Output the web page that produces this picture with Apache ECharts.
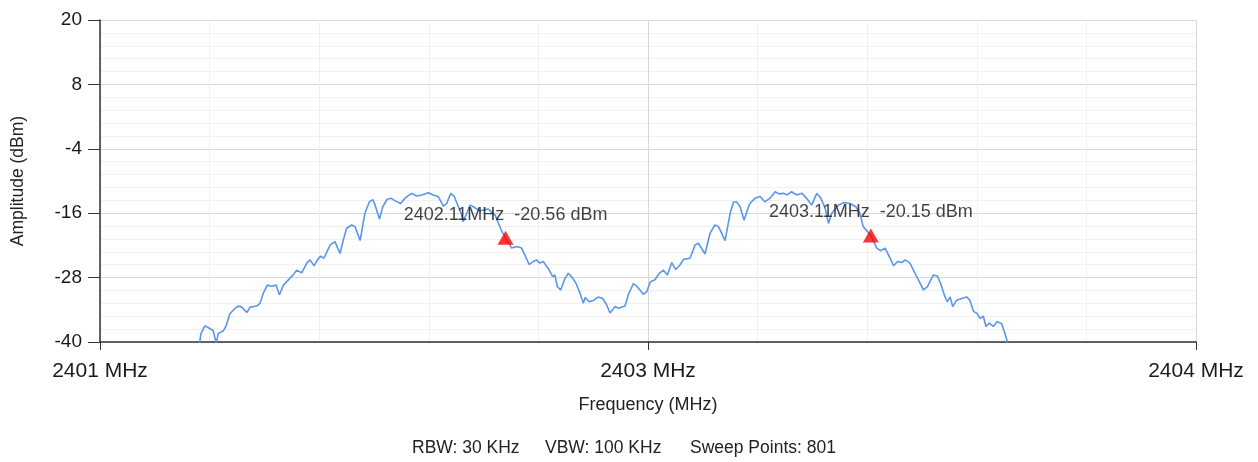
<!DOCTYPE html>
<html>
<head>
<meta charset="utf-8">
<script src="https://cdn.jsdelivr.net/npm/echarts@6/dist/echarts.min.js"></script>
<style>
html,body{margin:0;padding:0;background:#fff;}
#chart{width:1258px;height:462px;}
</style>
</head>
<body>
<div id="chart"></div>
<script>
// Frequency (MHz) of trace points
const freqs = [
2401.272,2401.276,2401.287,2401.296,2401.310,2401.318,2401.324,2401.338,2401.345,2401.356,
2401.370,2401.379,2401.388,2401.402,2401.411,2401.429,2401.438,2401.447,2401.458,2401.470,
2401.482,2401.491,2401.502,2401.520,2401.529,2401.538,2401.552,2401.566,2401.575,2401.586,
2401.595,2401.604,2401.613,2401.630,2401.643,2401.657,2401.666,2401.675,2401.689,2401.698,
2401.712,2401.725,2401.737,2401.747,2401.753,2401.765,2401.774,2401.786,2401.796,2401.808,
2401.823,2401.835,2401.853,2401.867,2401.881,2401.899,2401.912,2401.926,2401.940,2401.949,
2401.960,2401.969,2401.981,2401.990,2401.994,2402.004,2402.013,2402.022,2402.040,2402.062,
2402.081,2402.100,2402.110,2402.127,2402.141,2402.154,2402.163,2402.175,2402.186,2402.195,
2402.204,2402.213,2402.227,2402.239,2402.245,2402.252,2402.261,2402.273,2402.282,2402.294,
2402.303,2402.314,2402.323,2402.328,2402.339,2402.352,2402.364,2402.376,2402.387,2402.396,
2402.410,2402.419,2402.437,2402.446,2402.460,2402.469,2402.478,2402.487,2402.497,2402.506,
2402.519,2402.531,2402.542,2402.553,2402.565,2402.576,2402.588,2402.597,2402.615,2402.629,
2402.638,2402.656,2402.670,2402.683,2402.693,2402.711,2402.725,2402.734,2402.743,2402.752,
2402.763,2402.775,2402.779,2402.793,2402.807,2402.820,2402.834,2402.848,2402.859,2402.870,
2402.881,2402.893,2402.907,2402.921,2402.934,2402.948,2402.962,2402.973,2402.985,2402.994,
2403.003,2403.021,2403.037,2403.053,2403.069,2403.080,2403.089,2403.110,2403.126,2403.137,
2403.149,2403.163,2403.172,2403.183,2403.195,2403.204,2403.217,2403.231,2403.243,2403.254,
2403.265,2403.281,2403.292,2403.301,2403.313,2403.319,2403.327,2403.334,2403.345,2403.359,
2403.372,2403.381,2403.391,2403.401,2403.409,2403.418,2403.425,2403.434,2403.445,2403.456,
2403.468,2403.477,2403.486
];
// Amplitude (dBm) of trace points
const amps = [
-40.5,-38.5,-37.0,-37.3,-37.9,-40.2,-38.4,-37.9,-37.0,-34.7,
-33.7,-33.3,-33.5,-34.5,-33.5,-33.3,-32.8,-30.9,-29.4,-29.6,
-29.4,-31.2,-29.4,-28.1,-27.5,-26.6,-27.1,-25.3,-24.7,-25.8,
-24.7,-24.0,-24.4,-21.9,-21.3,-23.5,-21.0,-18.8,-18.2,-18.5,
-21.1,-16.0,-13.9,-13.5,-14.5,-17.1,-14.8,-13.4,-13.2,-13.7,
-14.2,-13.2,-12.3,-12.8,-12.6,-12.2,-12.6,-12.9,-14.7,-14.2,
-12.3,-12.8,-14.8,-16.3,-17.6,-16.0,-14.5,-14.8,-15.6,-15.2,
-16.3,-19.4,-20.56,-22.5,-22.2,-22.5,-23.8,-25.6,-25.0,-24.7,
-25.3,-25.0,-26.3,-27.8,-27.5,-29.7,-30.3,-28.1,-27.2,-28.1,
-29.1,-30.9,-32.8,-31.7,-32.5,-32.2,-31.6,-31.9,-33.1,-34.6,
-33.4,-33.7,-33.3,-31.2,-29.1,-29.6,-30.3,-31.1,-30.6,-28.8,
-28.4,-27.2,-26.6,-27.5,-25.2,-26.5,-25.6,-24.6,-24.4,-21.9,
-21.6,-23.6,-19.7,-18.2,-18.5,-21.1,-16.0,-13.9,-13.9,-14.8,
-17.3,-14.8,-14.2,-13.2,-12.9,-13.9,-13.2,-12.0,-12.4,-12.3,
-12.6,-12.0,-12.6,-12.3,-13.2,-14.5,-12.3,-13.2,-15.1,-17.9,
-16.0,-14.5,-14.0,-14.2,-14.8,-16.0,-18.5,-20.15,-22.5,-23.0,
-22.5,-24.4,-25.8,-25.0,-25.2,-24.7,-25.3,-27.2,-28.8,-30.3,
-29.7,-27.5,-27.7,-29.1,-31.6,-32.5,-31.6,-33.4,-32.2,-31.9,
-31.6,-32.2,-34.3,-34.7,-35.6,-35.2,-37.1,-36.5,-37.1,-36.2,
-36.6,-38.4,-40.5
];
// Marker readouts
const markerFreqs = [2402.11, 2403.11];
const markerAmps = [-20.56, -20.15];
// Axis settings
const xMin = 2401, xMax = 2404, xStep = 1.5;
const yMin = -40, yMax = 20, yStep = 12;
const footerTexts = ['RBW: 30 KHz', 'VBW: 100 KHz', 'Sweep Points: 801'];

const trace = freqs.map((f, i) => [f, amps[i]]);
const markers = markerFreqs.map((f, i) => [f, markerAmps[i]]);

const FONT = 'Liberation Sans, Arial, sans-serif';
const chart = echarts.init(document.getElementById('chart'), null, {renderer: 'canvas'});
chart.setOption({
  backgroundColor: '#ffffff',
  animation: false,
  grid: {left: 100, right: 62, top: 20, bottom: 120, containLabel: false, outerBoundsMode: 'none'},
  xAxis: {
    type: 'value', min: xMin, max: xMax, interval: xStep,
    name: 'Frequency (MHz)', nameLocation: 'middle', nameGap: 54,
    nameTextStyle: {fontFamily: FONT, fontSize: 18, color: '#222'},
    axisLine: {show: true, onZero: false, lineStyle: {color: '#333', width: 1.5}},
    axisTick: {show: true, length: 8, lineStyle: {color: '#333'}},
    axisLabel: {fontFamily: FONT, fontSize: 21, color: '#1a1a1a', margin: 19,
      formatter: v => Math.round(v) + ' MHz'},
    splitLine: {show: true, lineStyle: {color: '#d8d8d8', width: 1}},
    minorTick: {show: false, splitNumber: 5},
    minorSplitLine: {show: true, lineStyle: {color: '#f0f0f0', width: 1}}
  },
  yAxis: {
    type: 'value', min: yMin, max: yMax, interval: yStep,
    name: 'Amplitude (dBm)', nameLocation: 'middle', nameGap: 73,
    nameTextStyle: {fontFamily: FONT, fontSize: 17.5, color: '#222'},
    axisLine: {show: true, onZero: false, lineStyle: {color: '#333', width: 1.5}},
    axisTick: {show: true, length: 12, lineStyle: {color: '#333'}},
    axisLabel: {fontFamily: FONT, fontSize: 19, color: '#1a1a1a', margin: 18},
    splitLine: {show: true, lineStyle: {color: '#d8d8d8', width: 1}},
    minorTick: {show: false, splitNumber: 5},
    minorSplitLine: {show: true, lineStyle: {color: '#f0f0f0', width: 1}}
  },
  series: [
    {
      type: 'line', data: trace, showSymbol: false, clip: true,
      lineStyle: {color: '#5a96ea', width: 1.6}, z: 2
    },
    {
      type: 'scatter', data: markers, symbol: 'triangle', symbolSize: [16, 14],
      itemStyle: {color: '#ff0000'}, z: 4,
      label: {
        show: true, position: 'top', distance: 7,
        fontFamily: FONT, fontSize: 18, color: '#111',
        formatter: p => p.value[0].toFixed(2) + 'MHz  ' + p.value[1].toFixed(2) + ' dBm'
      }
    }
  ],
  graphic: [
    {type: 'text', left: 412, top: 439, style: {text: footerTexts[0], font: '17.5px ' + FONT, fill: '#222'}},
    {type: 'text', left: 545, top: 439, style: {text: footerTexts[1], font: '17.5px ' + FONT, fill: '#222'}},
    {type: 'text', left: 690, top: 439, style: {text: footerTexts[2], font: '17.5px ' + FONT, fill: '#222'}}
  ]
});
</script>
</body>
</html>
